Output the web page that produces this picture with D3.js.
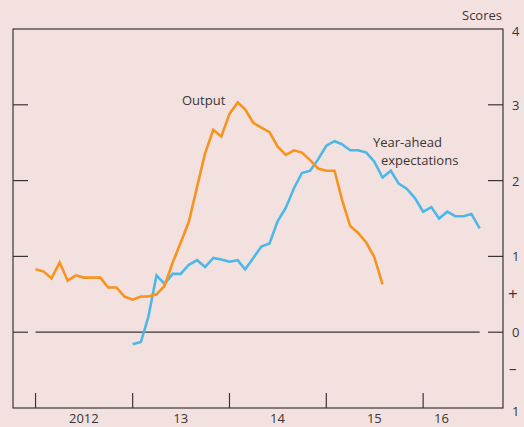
<!DOCTYPE html>
<html>
<head>
<meta charset="utf-8">
<script src="https://cdn.jsdelivr.net/npm/d3@7"></script>
<style>
  body { margin: 0; background: #f3e1df; }
  svg { display: block; font-family: "Open Sans", "Noto Sans", sans-serif; }
</style>
</head>
<body>
<svg id="chart" width="524" height="427"></svg>
<script>
// monthly survey scores
const outputStart = new Date(2012, 0, 1);
const outputValues = [
  0.83, 0.80, 0.71, 0.92, 0.68, 0.75, 0.72, 0.72, 0.72, 0.59, 0.59, 0.47,
  0.43, 0.47, 0.47, 0.50, 0.61, 0.92, 1.18, 1.46, 1.92, 2.36, 2.67, 2.58,
  2.88, 3.03, 2.94, 2.76, 2.70, 2.64, 2.45, 2.34, 2.40, 2.37, 2.27, 2.16,
  2.13, 2.13, 1.75, 1.40, 1.31, 1.18, 0.99, 0.63
];
const expectStart = new Date(2013, 0, 1);
const expectValues = [
  -0.16, -0.13, 0.20, 0.75, 0.64, 0.77, 0.77, 0.89, 0.95, 0.86, 0.98, 0.96,
  0.93, 0.95, 0.83, 0.98, 1.13, 1.17, 1.46, 1.64, 1.90, 2.10, 2.13, 2.28,
  2.46, 2.52, 2.48, 2.40, 2.40, 2.37, 2.25, 2.04, 2.13, 1.96, 1.89, 1.77,
  1.59, 1.65, 1.50, 1.59, 1.53, 1.53, 1.56, 1.37
];
const yearTicks = [2012, 2013, 2014, 2015, 2016];
const yearLabels = ["2012", "13", "14", "15", "16"];
const yTickValues = [4, 3, 2, 1, 0, -1];
const yTickLabels = ["4", "3", "2", "1", "0", "1"];

const plotLeft = 13, plotRight = 503, plotTop = 29, plotBottom = 408;
const svg = d3.select("#chart");

const x = d3.scaleTime()
  .domain([new Date(2011, 9, 8), new Date(2016, 9, 28)])
  .range([plotLeft, plotRight]);
const y = d3.scaleLinear().domain([-1, 4]).range([plotBottom, plotTop]);

function toSeries(start, values) {
  return values.map((v, i) => ({ date: d3.timeMonth.offset(start, i), value: v }));
}
const output = toSeries(outputStart, outputValues);
const expect = toSeries(expectStart, expectValues);

const ink = "#3a3535";

// frame
svg.append("rect")
  .attr("x", plotLeft).attr("y", plotTop)
  .attr("width", plotRight - plotLeft).attr("height", plotBottom - plotTop)
  .attr("fill", "none").attr("stroke", ink).attr("stroke-width", 1.2);

// y ticks both sides
const inner = yTickValues.filter(v => v > -1 && v < 4);
svg.selectAll(".ytl").data(inner).enter().append("line")
  .attr("x1", plotLeft).attr("x2", plotLeft + 15)
  .attr("y1", d => y(d)).attr("y2", d => y(d))
  .attr("stroke", ink).attr("stroke-width", 1.2);
svg.selectAll(".ytr").data(inner).enter().append("line")
  .attr("x1", plotRight - 15).attr("x2", plotRight)
  .attr("y1", d => y(d)).attr("y2", d => y(d))
  .attr("stroke", ink).attr("stroke-width", 1.2);

// zero line over the data span
svg.append("line")
  .attr("x1", x(outputStart)).attr("x2", x(expect[expect.length - 1].date))
  .attr("y1", y(0)).attr("y2", y(0))
  .attr("stroke", ink).attr("stroke-width", 1.2);

// x ticks
svg.selectAll(".xt").data(yearTicks).enter().append("line")
  .attr("x1", d => x(new Date(d, 0, 1))).attr("x2", d => x(new Date(d, 0, 1)))
  .attr("y1", plotBottom - 15).attr("y2", plotBottom)
  .attr("stroke", ink).attr("stroke-width", 1.2);

svg.selectAll(".xl").data(yearTicks).enter().append("text")
  .attr("x", d => d === 2016 ? x(new Date(d, 2, 10)) : x(new Date(d, 6, 1)))
  .attr("y", 423)
  .attr("text-anchor", "middle")
  .attr("font-size", 13).attr("fill", ink)
  .text((d, i) => yearLabels[i]);

// y labels on the right
svg.selectAll(".yl").data(yTickValues).enter().append("text")
  .attr("x", 512)
  .attr("y", d => y(d) + (d === -1 ? 8 : d === 4 ? 7 : 5))
  .attr("font-size", 13).attr("fill", ink)
  .text((d, i) => yTickLabels[i]);

svg.append("text").attr("x", 508).attr("y", (y(1) + y(0)) / 2 + 6)
  .attr("font-size", 17).attr("fill", ink).text("+");
svg.append("text").attr("x", 509).attr("y", (y(0) + y(-1)) / 2 + 4)
  .attr("font-size", 15).attr("fill", ink).text("\u2013");

svg.append("text").attr("x", 502).attr("y", 20)
  .attr("text-anchor", "end")
  .attr("font-size", 13).attr("fill", ink).text("Scores");

// lines
const line = d3.line().x(d => x(d.date)).y(d => y(d.value));

svg.append("path").datum(expect)
  .attr("d", line)
  .attr("fill", "none").attr("stroke", "#4cb8e8")
  .attr("stroke-width", 2.6).attr("stroke-linejoin", "miter");

svg.append("path").datum(output)
  .attr("d", line)
  .attr("fill", "none").attr("stroke", "#f7931e")
  .attr("stroke-width", 2.6).attr("stroke-linejoin", "miter");

// annotations
svg.append("text").attr("x", 182).attr("y", 105)
  .attr("font-size", 13).attr("fill", ink).text("Output");
svg.append("text").attr("x", 373).attr("y", 147)
  .attr("font-size", 13).attr("fill", ink).text("Year-ahead");
svg.append("text").attr("x", 381).attr("y", 165)
  .attr("font-size", 13).attr("fill", ink).text("expectations");
</script>
</body>
</html>
